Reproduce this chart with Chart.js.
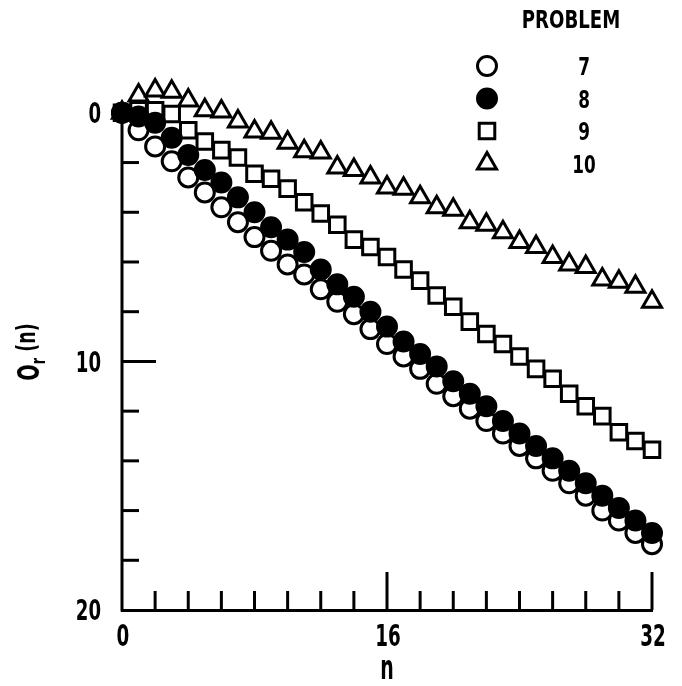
<!DOCTYPE html>
<html>
<head>
<meta charset="utf-8">
<script src="https://cdn.jsdelivr.net/npm/chart.js@4/dist/chart.umd.min.js"></script>
<style>
  html, body { margin: 0; padding: 0; background: #fff; }
  #wrap { width: 682px; height: 686px; }
</style>
</head>
<body>
<div id="wrap"><canvas id="myChart" width="682" height="686"></canvas></div>
<script>
const FONT = "'DejaVu Sans Condensed', 'DejaVu Sans', sans-serif";

// n values (x) and O_r(n) for each problem
const nValues = [0,1,2,3,4,5,6,7,8,9,10,11,12,13,14,15,16,17,18,19,20,21,22,23,24,25,26,27,28,29,30,31,32];
const problem7  = [0,0.7,1.35,1.95,2.6,3.2,3.8,4.4,5.0,5.55,6.1,6.5,7.1,7.6,8.1,8.7,9.3,9.8,10.3,10.9,11.4,11.9,12.4,12.9,13.4,13.9,14.4,14.9,15.4,16.0,16.4,16.9,17.35];
const problem8  = [0,0.15,0.4,1.0,1.7,2.3,2.8,3.4,4.0,4.6,5.1,5.6,6.3,6.9,7.4,8.0,8.6,9.2,9.7,10.2,10.8,11.3,11.8,12.4,12.9,13.4,13.9,14.4,14.9,15.4,15.9,16.4,16.9];
const problem9  = [0,-0.1,-0.1,0.05,0.7,1.15,1.5,1.8,2.45,2.65,3.05,3.6,4.05,4.5,5.1,5.4,5.8,6.3,6.75,7.35,7.8,8.4,8.9,9.3,9.8,10.3,10.7,11.3,11.8,12.2,12.85,13.2,13.55];
const problem10 = [0,-0.7,-0.9,-0.85,-0.5,-0.1,-0.05,0.35,0.75,0.8,1.2,1.55,1.6,2.2,2.3,2.6,3.0,3.05,3.4,3.8,3.9,4.4,4.5,4.8,5.2,5.4,5.8,6.1,6.2,6.7,6.8,7.0,7.6];

const problemLabels = ['7', '8', '9', '10'];
const legendTitle = 'PROBLEM';
const xTitle = 'n';
const xTickLabels = [0, 16, 32];
const yTickLabels = [0, 10, 20];
const xMinorTicks = [2,4,6,8,10,12,14,16,18,20,22,24,26,28,30,32];
const yMinorTicks = [2,4,6,8,10,12,14,16,18];

const toPoints = vals => nValues.map((n, i) => ({x: n, y: vals[i]}));

// narrow bold text: the original lettering is condensed
function narrowText(ctx, text, x, y, size, sx, align) {
  ctx.save();
  ctx.translate(x, y);
  ctx.scale(sx, 1);
  ctx.font = `bold ${size}px ${FONT}`;
  ctx.textAlign = align || 'center';
  ctx.textBaseline = 'alphabetic';
  ctx.fillText(text, 0, size * 0.365);   // y is the middle of the caps
  ctx.restore();
}

// y axis line from 0 to 20, tick marks pointing into the plot
const innerTicks = {
  id: 'innerTicks',
  beforeDatasetsDraw(chart) {
    const {ctx, scales: {x, y}} = chart;
    const left = x.getPixelForValue(0);
    const bottom = y.getPixelForValue(20);
    ctx.save();
    ctx.strokeStyle = '#000';
    ctx.lineWidth = 3;
    ctx.beginPath();
    ctx.moveTo(left, y.getPixelForValue(0));
    ctx.lineTo(left, bottom + 1.5);
    ctx.stroke();
    xMinorTicks.forEach(v => {
      const px = x.getPixelForValue(v);
      const len = xTickLabels.includes(v) ? 38 : 19;
      ctx.beginPath();
      ctx.moveTo(px, bottom);
      ctx.lineTo(px, bottom - len);
      ctx.stroke();
    });
    yMinorTicks.forEach(v => {
      const py = y.getPixelForValue(v);
      const len = yTickLabels.includes(v) ? 34 : 17;
      ctx.beginPath();
      ctx.moveTo(left, py);
      ctx.lineTo(left + len, py);
      ctx.stroke();
    });
    ctx.restore();
  }
};

// tick labels, axis titles and the PROBLEM key
const extras = {
  id: 'extras',
  afterDraw(chart) {
    const {ctx, scales: {x, y}} = chart;
    const left = x.getPixelForValue(0);
    const bottom = y.getPixelForValue(20);
    ctx.save();
    ctx.fillStyle = '#000';

    yTickLabels.forEach(v => narrowText(ctx, String(v), left - 21, y.getPixelForValue(v), 28, 0.72, 'right'));
    xTickLabels.forEach(v => narrowText(ctx, String(v), x.getPixelForValue(v) + 1, bottom + 25, 30, 0.68, 'center'));
    narrowText(ctx, xTitle, x.getPixelForValue(16), bottom + 57, 34, 0.62, 'center');

    // y axis title, O with subscript r
    ctx.save();
    ctx.translate(31, 352);
    ctx.rotate(-Math.PI / 2);
    ctx.scale(0.72, 1);
    ctx.textBaseline = 'middle';
    ctx.textAlign = 'left';
    ctx.font = `bold 30px ${FONT}`;
    const w1 = ctx.measureText('O').width;
    ctx.font = `bold 20px ${FONT}`;
    const w2 = ctx.measureText('r').width;
    ctx.font = `bold 27px ${FONT}`;
    const w3 = ctx.measureText(' (n)').width;
    let sx = -(w1 + w2 + w3) / 2;
    ctx.font = `bold 30px ${FONT}`;
    ctx.fillText('O', sx, 0);
    sx += w1;
    ctx.font = `bold 20px ${FONT}`;
    ctx.fillText('r', sx, 9);
    sx += w2;
    ctx.font = `bold 27px ${FONT}`;
    ctx.fillText(' (n)', sx, -3);
    ctx.restore();

    // legend
    narrowText(ctx, legendTitle, 571, 19, 24, 0.84, 'center');
    chart.data.datasets.forEach((ds, i) => {
      const ly = 66 + i * 32.5;
      ctx.fillStyle = ds.pointBackgroundColor;
      ctx.strokeStyle = ds.pointBorderColor;
      ctx.lineWidth = ds.pointBorderWidth;
      Chart.helpers.drawPoint(ctx, {
        pointStyle: ds.pointStyle, radius: ds.pointRadius,
        borderWidth: ds.pointBorderWidth, rotation: 0
      }, 487, ly);
      ctx.fillStyle = '#000';
      narrowText(ctx, ds.label, 584, ly, 25, 0.75, 'center');
    });
    ctx.restore();
  }
};

const mkSet = (label, vals, style, radius, fill, order) => ({
  label: label,
  data: toPoints(vals),
  pointStyle: style,
  pointRadius: radius,
  pointBorderWidth: 3,
  pointBackgroundColor: fill,
  pointBorderColor: '#000',
  showLine: false,
  clip: false,
  order: order
});

const ctxt = document.getElementById('myChart').getContext('2d');

const myChart = new Chart(ctxt, {
  type: 'scatter',
  data: {
    datasets: [
      mkSet(problemLabels[0], problem7, 'circle', 9.5, '#fff', 1),
      mkSet(problemLabels[1], problem8, 'circle', 9.5, '#000', 0),
      mkSet(problemLabels[2], problem9, 'rect', 11, '#fff', 2),
      mkSet(problemLabels[3], problem10, 'triangle', 11, '#fff', 3)
    ]
  },
  options: {
    responsive: false,
    animation: false,
    events: [],
    layout: { padding: { top: 83, right: 30, bottom: 0, left: 0 } },
    plugins: { legend: { display: false }, tooltip: { enabled: false } },
    scales: {
      x: {
        type: 'linear',
        min: 0,
        max: 32,
        afterFit: s => { s.height = 76; },
        afterBuildTicks: s => { s.ticks = xTickLabels.map(v => ({value: v})); },
        grid: { display: true, drawOnChartArea: false, drawTicks: false },
        border: { display: true, color: '#000', width: 3 },
        ticks: { display: false }
      },
      y: {
        type: 'linear',
        reverse: true,
        min: -1.2,
        max: 20,
        afterFit: s => { s.width = 122; },
        afterBuildTicks: s => { s.ticks = yTickLabels.map(v => ({value: v})); },
        grid: { display: false },
        border: { display: false },
        ticks: { display: false }
      }
    }
  },
  plugins: [innerTicks, extras]
});
</script>
</body>
</html>
